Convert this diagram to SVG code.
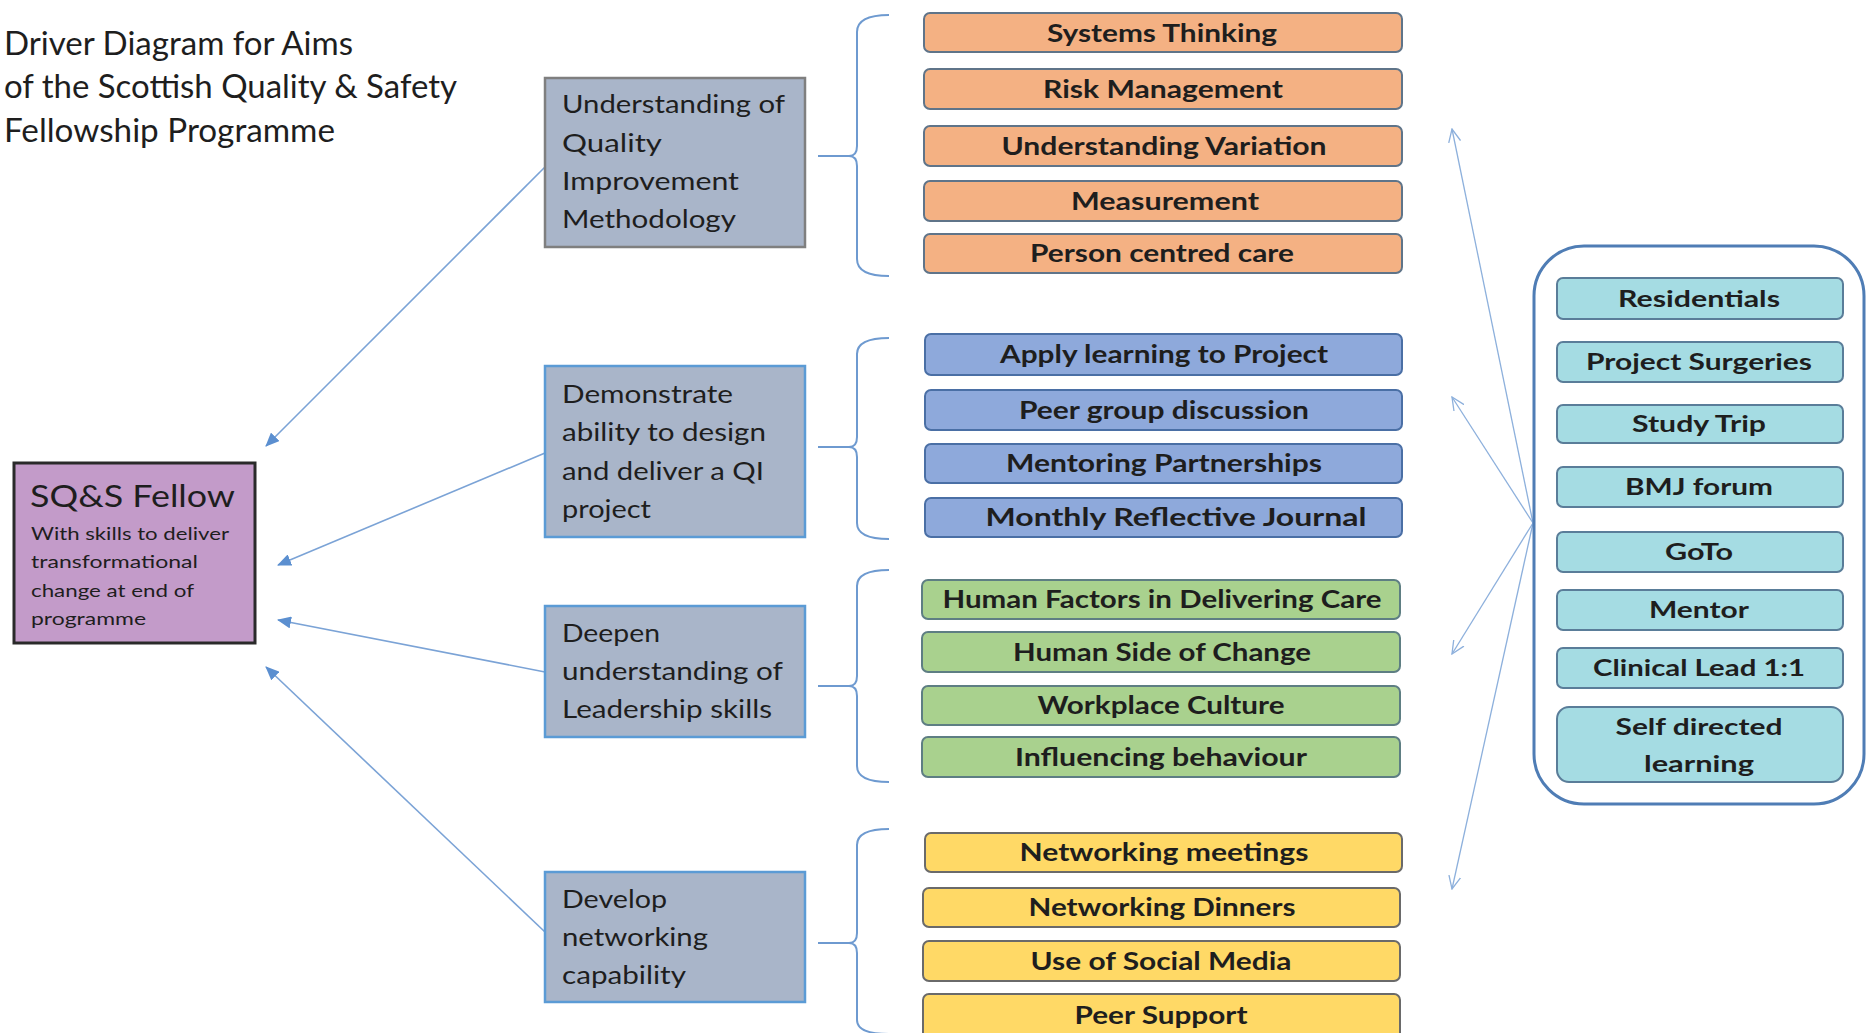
<svg xmlns="http://www.w3.org/2000/svg" width="1871" height="1033" viewBox="0 0 1871 1033">
<style>
text{font-family:Lato,"Liberation Sans",sans-serif;fill:#1e1e1e}
.title{font-size:32px}
.drv{font-size:25px}
.lbl{font-size:25px;font-weight:bold;text-anchor:middle}
.tl{font-size:23px;font-weight:bold;text-anchor:middle}
.dbox{fill:#A9B5C9;stroke:#5B9BD5;stroke-width:2.5}
.or{fill:#F4B183;stroke:#5F7489;stroke-width:2}
.bl{fill:#8EA9DB;stroke:#4A6FA5;stroke-width:2}
.gr{fill:#A9D18E;stroke:#5E7E83;stroke-width:2}
.ye{fill:#FFD966;stroke:#6A6A6A;stroke-width:2}
.te{fill:#A5DCE3;stroke:#5A7D99;stroke-width:2}
.brace{fill:none;stroke:#6E9AD0;stroke-width:2}
.conn{fill:none;stroke:#7BA3D6;stroke-width:1.6}
.connr{fill:none;stroke:#8DB0DC;stroke-width:1.3}
</style>
<defs>
<marker id="ah" viewBox="0 0 14 12" refX="13" refY="6" markerWidth="14" markerHeight="12" markerUnits="userSpaceOnUse" orient="auto"><path d="M0,0 L14,6 L0,12 z" fill="#5B8FD0"/></marker>
<marker id="av" viewBox="0 0 14 14" refX="13" refY="7" markerWidth="14" markerHeight="14" markerUnits="userSpaceOnUse" orient="auto"><path d="M0,1 L13,7 L0,13" fill="none" stroke="#8DB0DC" stroke-width="1.3"/></marker>
</defs>
<rect width="1871" height="1033" fill="#ffffff"/>

<g id="title">
<text class="title" x="4" y="55" textLength="349" lengthAdjust="spacingAndGlyphs">Driver Diagram for Aims</text>
<text class="title" x="4" y="98" textLength="453" lengthAdjust="spacingAndGlyphs">of the Scottish Quality &amp; Safety</text>
<text class="title" x="4" y="142" textLength="331" lengthAdjust="spacingAndGlyphs">Fellowship Programme</text>
</g>

<g id="connectors">
<line class="conn" x1="545" y1="167" x2="266" y2="446" marker-end="url(#ah)"/>
<line class="conn" x1="545" y1="453" x2="278" y2="565" marker-end="url(#ah)"/>
<line class="conn" x1="545" y1="672" x2="278" y2="620" marker-end="url(#ah)"/>
<line class="conn" x1="545" y1="932" x2="266" y2="667" marker-end="url(#ah)"/>
<line class="connr" x1="1533" y1="523" x2="1452" y2="129" marker-end="url(#av)"/>
<line class="connr" x1="1533" y1="523" x2="1452" y2="397" marker-end="url(#av)"/>
<line class="connr" x1="1533" y1="523" x2="1452" y2="654" marker-end="url(#av)"/>
<line class="connr" x1="1533" y1="523" x2="1452" y2="889" marker-end="url(#av)"/>
<path class="brace" d="M818,156 L849,156 M889,15 Q857,15 857,32 L857,146 Q857,156 849,156 Q857,156 857,166 L857,259 Q857,276 889,276"/>
<path class="brace" d="M818,447 L849,447 M889,338 Q857,338 857,354 L857,437 Q857,447 849,447 Q857,447 857,457 L857,523 Q857,539 889,539"/>
<path class="brace" d="M818,686 L849,686 M889,570 Q857,570 857,586 L857,676 Q857,686 849,686 Q857,686 857,696 L857,766 Q857,782 889,782"/>
<path class="brace" d="M818,943 L849,943 M889,829 Q857,829 857,845 L857,933 Q857,943 849,943 Q857,943 857,953 L857,1020 Q857,1034 889,1034"/>
</g>

<g id="fellow">
<rect x="14" y="463" width="241" height="180" fill="#C39BC9" stroke="#2A2A2A" stroke-width="3"/>
<text x="30" y="507" font-size="31" textLength="205" lengthAdjust="spacingAndGlyphs">SQ&amp;S Fellow</text>
<text x="31" y="540" font-size="18" textLength="198" lengthAdjust="spacingAndGlyphs">With skills to deliver</text>
<text x="31" y="568" font-size="18" textLength="167" lengthAdjust="spacingAndGlyphs">transformational</text>
<text x="31" y="597" font-size="18" textLength="163" lengthAdjust="spacingAndGlyphs">change at end of</text>
<text x="31" y="625" font-size="18" textLength="115" lengthAdjust="spacingAndGlyphs">programme</text>
</g>

<g id="driver-qi">
<rect class="dbox" x="545" y="78" width="260" height="169" style="stroke:#7F7F7F"/>
<text class="drv" x="562" y="113" textLength="223" lengthAdjust="spacingAndGlyphs">Understanding of</text>
<text class="drv" x="562" y="152" textLength="100" lengthAdjust="spacingAndGlyphs">Quality</text>
<text class="drv" x="562" y="190" textLength="177" lengthAdjust="spacingAndGlyphs">Improvement</text>
<text class="drv" x="562" y="228" textLength="174" lengthAdjust="spacingAndGlyphs">Methodology</text>
</g>
<g id="driver-project">
<rect class="dbox" x="545" y="366" width="260" height="171"/>
<text class="drv" x="562" y="403" textLength="171" lengthAdjust="spacingAndGlyphs">Demonstrate</text>
<text class="drv" x="562" y="441" textLength="204" lengthAdjust="spacingAndGlyphs">ability to design</text>
<text class="drv" x="562" y="480" textLength="202" lengthAdjust="spacingAndGlyphs">and deliver a QI</text>
<text class="drv" x="562" y="518" textLength="89" lengthAdjust="spacingAndGlyphs">project</text>
</g>
<g id="driver-leadership">
<rect class="dbox" x="545" y="606" width="260" height="131"/>
<text class="drv" x="562" y="642" textLength="98" lengthAdjust="spacingAndGlyphs">Deepen</text>
<text class="drv" x="562" y="680" textLength="221" lengthAdjust="spacingAndGlyphs">understanding of</text>
<text class="drv" x="562" y="718" textLength="210" lengthAdjust="spacingAndGlyphs">Leadership skills</text>
</g>
<g id="driver-networking">
<rect class="dbox" x="545" y="872" width="260" height="130"/>
<text class="drv" x="562" y="908" textLength="105" lengthAdjust="spacingAndGlyphs">Develop</text>
<text class="drv" x="562" y="946" textLength="146" lengthAdjust="spacingAndGlyphs">networking</text>
<text class="drv" x="562" y="984" textLength="124" lengthAdjust="spacingAndGlyphs">capability</text>
</g>

<g id="systems-thinking"><rect class="or" x="924" y="13" width="478" height="39" rx="6"/><text class="lbl" x="1162" y="41.5" textLength="230" lengthAdjust="spacingAndGlyphs">Systems Thinking</text></g>
<g id="risk-management"><rect class="or" x="924" y="69" width="478" height="40" rx="6"/><text class="lbl" x="1163" y="98" textLength="240" lengthAdjust="spacingAndGlyphs">Risk Management</text></g>
<g id="understanding-variation"><rect class="or" x="924" y="126" width="478" height="40" rx="6"/><text class="lbl" x="1164" y="155" textLength="325" lengthAdjust="spacingAndGlyphs">Understanding Variation</text></g>
<g id="measurement"><rect class="or" x="924" y="181" width="478" height="40" rx="6"/><text class="lbl" x="1165" y="210" textLength="188" lengthAdjust="spacingAndGlyphs">Measurement</text></g>
<g id="person-centred-care"><rect class="or" x="924" y="234" width="478" height="39" rx="6"/><text class="lbl" x="1162" y="262" textLength="264" lengthAdjust="spacingAndGlyphs">Person centred care</text></g>

<g id="apply-learning"><rect class="bl" x="925" y="334" width="477" height="41" rx="6"/><text class="lbl" x="1164" y="363" textLength="328" lengthAdjust="spacingAndGlyphs">Apply learning to Project</text></g>
<g id="peer-group"><rect class="bl" x="925" y="390" width="477" height="40" rx="6"/><text class="lbl" x="1164" y="419" textLength="290" lengthAdjust="spacingAndGlyphs">Peer group discussion</text></g>
<g id="mentoring"><rect class="bl" x="925" y="444" width="477" height="39" rx="6"/><text class="lbl" x="1164" y="472" textLength="316" lengthAdjust="spacingAndGlyphs">Mentoring Partnerships</text></g>
<g id="journal"><rect class="bl" x="925" y="498" width="477" height="39" rx="6"/><text class="lbl" x="1176" y="526" textLength="381" lengthAdjust="spacingAndGlyphs">Monthly Reflective Journal</text></g>

<g id="human-factors"><rect class="gr" x="922" y="580" width="478" height="39" rx="6"/><text class="lbl" x="1162" y="608" textLength="439" lengthAdjust="spacingAndGlyphs">Human Factors in Delivering Care</text></g>
<g id="human-side"><rect class="gr" x="922" y="632" width="478" height="40" rx="6"/><text class="lbl" x="1162" y="661" textLength="298" lengthAdjust="spacingAndGlyphs">Human Side of Change</text></g>
<g id="workplace-culture"><rect class="gr" x="922" y="686" width="478" height="39" rx="6"/><text class="lbl" x="1161" y="714" textLength="247" lengthAdjust="spacingAndGlyphs">Workplace Culture</text></g>
<g id="influencing"><rect class="gr" x="922" y="737" width="478" height="40" rx="6"/><text class="lbl" x="1161" y="766" textLength="292" lengthAdjust="spacingAndGlyphs">Influencing behaviour</text></g>

<g id="networking-meetings"><rect class="ye" x="925" y="833" width="477" height="39" rx="6"/><text class="lbl" x="1164" y="861" textLength="289" lengthAdjust="spacingAndGlyphs">Networking meetings</text></g>
<g id="networking-dinners"><rect class="ye" x="923" y="888" width="477" height="39" rx="6"/><text class="lbl" x="1162" y="916" textLength="267" lengthAdjust="spacingAndGlyphs">Networking Dinners</text></g>
<g id="social-media"><rect class="ye" x="923" y="941" width="477" height="40" rx="6"/><text class="lbl" x="1161" y="970" textLength="261" lengthAdjust="spacingAndGlyphs">Use of Social Media</text></g>
<g id="peer-support"><rect class="ye" x="923" y="994" width="477" height="46" rx="6"/><text class="lbl" x="1161" y="1024" textLength="173" lengthAdjust="spacingAndGlyphs">Peer Support</text></g>

<g id="enablers">
<rect x="1534" y="246" width="330" height="558" rx="50" fill="#ffffff" stroke="#4F7DB5" stroke-width="3"/>
<g id="residentials"><rect class="te" x="1557" y="278" width="286" height="41" rx="6"/><text class="tl" x="1699" y="306.5" textLength="162" lengthAdjust="spacingAndGlyphs">Residentials</text></g>
<g id="project-surgeries"><rect class="te" x="1557" y="342" width="286" height="40" rx="6"/><text class="tl" x="1699" y="370" textLength="226" lengthAdjust="spacingAndGlyphs">Project Surgeries</text></g>
<g id="study-trip"><rect class="te" x="1557" y="405" width="286" height="38" rx="6"/><text class="tl" x="1699" y="432" textLength="134" lengthAdjust="spacingAndGlyphs">Study Trip</text></g>
<g id="bmj-forum"><rect class="te" x="1557" y="467" width="286" height="40" rx="6"/><text class="tl" x="1699" y="495" textLength="148" lengthAdjust="spacingAndGlyphs">BMJ forum</text></g>
<g id="goto"><rect class="te" x="1557" y="532" width="286" height="40" rx="6"/><text class="tl" x="1699" y="560" textLength="68" lengthAdjust="spacingAndGlyphs">GoTo</text></g>
<g id="mentor"><rect class="te" x="1557" y="590" width="286" height="40" rx="6"/><text class="tl" x="1699" y="618" textLength="100" lengthAdjust="spacingAndGlyphs">Mentor</text></g>
<g id="clinical-lead"><rect class="te" x="1557" y="648" width="286" height="40" rx="6"/><text class="tl" x="1699" y="676" textLength="212" lengthAdjust="spacingAndGlyphs">Clinical Lead 1:1</text></g>
<g id="self-directed"><rect class="te" x="1557" y="707" width="286" height="75" rx="12"/><text class="tl" x="1699" y="735" textLength="167" lengthAdjust="spacingAndGlyphs">Self directed</text><text class="tl" x="1699" y="772" textLength="110" lengthAdjust="spacingAndGlyphs">learning</text></g>
</g>
</svg>
